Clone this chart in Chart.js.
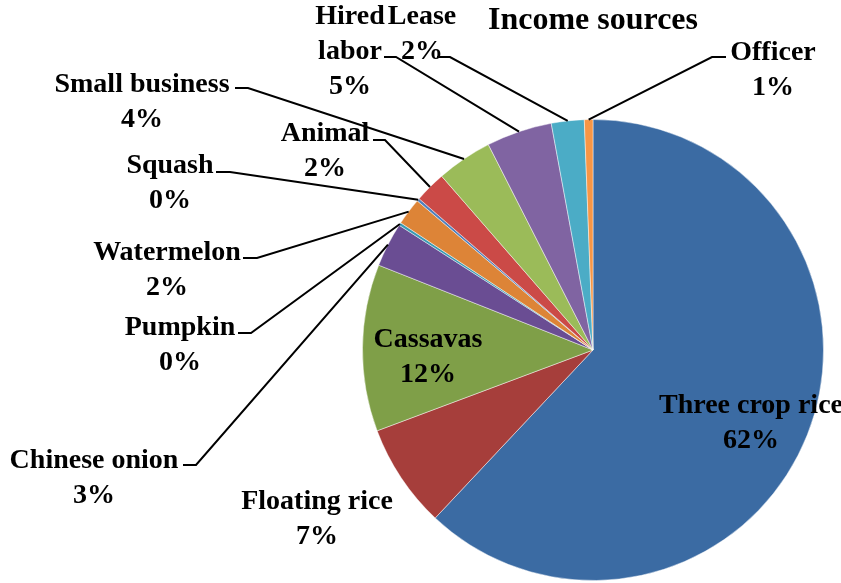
<!DOCTYPE html>
<html>
<head>
<meta charset="utf-8">
<title>Income sources</title>
<script src="https://cdn.jsdelivr.net/npm/chart.js@4.4.1/dist/chart.umd.min.js"></script>
<style>
  html, body { margin: 0; padding: 0; background: #fff; }
  #wrap { width: 841px; height: 583px; }
</style>
</head>
<body>
<div id="wrap"><canvas id="pie" width="841" height="583"></canvas></div>
<script>
'use strict';

/* Income share per source (%), clockwise from 12 o'clock */
const sources = [
  'Three crop rice', 'Floating rice', 'Cassavas', 'Chinese onion', 'Pumpkin',
  'Watermelon', 'Squash', 'Animal', 'Small business', 'Hired labor', 'Lease', 'Officer'
];
const shares = [62.0, 7.3, 11.7, 3.1, 0.2, 1.9, 0.2, 2.2, 3.9, 4.6, 2.3, 0.6];

const sliceColors = [
  '#3B6BA3', '#A63E3B', '#7F9F48', '#6A4D93', '#3A9AB3', '#DD8437',
  '#4F81BD', '#CB4A47', '#9BBB59', '#8064A2', '#4BACC6', '#F79646'
];

/* Label placement: text centre x, first baseline y, optional leader tick [x0, x1, y] */
const labelSpots = [
  { x: 751, y: 413 },
  { x: 317, y: 509 },
  { x: 428, y: 347 },
  { x: 94,  y: 468, tick: [183, 196, 465] },
  { x: 180, y: 335, tick: [238, 251, 333] },
  { x: 167, y: 260, tick: [243, 257, 258] },
  { x: 170, y: 173, tick: [216, 230, 172] },
  { x: 325, y: 141, tick: [373, 385, 140] },
  { x: 142, y: 92,  tick: [235, 248, 88] },
  { x: 350, y: 24,  tick: [384, 396, 57], wrap: true },
  { x: 422, y: 24,  tick: [437, 450, 57] },
  { x: 773, y: 60,  tick: [726, 712, 57] },
];

const LABEL_FONT = 'bold 28px "Liberation Serif"';
const LINE_H = 35;

/* Draws category + percentage labels with leader lines to the slice edge */
const pieLabels = {
  id: 'pieLabels',
  afterDatasetsDraw(chart) {
    const ctx = chart.ctx;
    const meta = chart.getDatasetMeta(0);
    const values = chart.data.datasets[0].data;
    const total = values.reduce((a, b) => a + b, 0);

    ctx.save();
    ctx.strokeStyle = '#000';
    ctx.lineWidth = 2;
    meta.data.forEach((arc, i) => {
      const spot = labelSpots[i];
      if (!spot.tick) return;
      const { x, y, startAngle, endAngle, outerRadius } = arc.getProps(
        ['x', 'y', 'startAngle', 'endAngle', 'outerRadius'], true);
      const mid = (startAngle + endAngle) / 2;
      const px = x + Math.cos(mid) * outerRadius;
      const py = y + Math.sin(mid) * outerRadius;
      const [x0, x1, ty] = spot.tick;
      ctx.beginPath();
      ctx.moveTo(x0, ty);
      ctx.lineTo(x1, ty);
      ctx.lineTo(px, py);
      ctx.stroke();
    });

    ctx.font = LABEL_FONT;
    ctx.fillStyle = '#000';
    ctx.textAlign = 'center';
    ctx.textBaseline = 'alphabetic';
    chart.data.labels.forEach((name, i) => {
      const spot = labelSpots[i];
      const pct = Math.round(values[i] / total * 100) + '%';
      const lines = spot.wrap ? name.split(' ') : [name];
      lines.push(pct);
      lines.forEach((txt, k) => ctx.fillText(txt, spot.x, spot.y + k * LINE_H));
    });
    ctx.restore();
  }
};

new Chart(document.getElementById('pie'), {
  type: 'pie',
  data: {
    labels: sources,
    datasets: [{
      data: shares,
      backgroundColor: sliceColors,
      borderColor: 'rgba(255,255,255,0.45)',
      borderWidth: 1,
    }],
  },
  options: {
    responsive: false,
    animation: false,
    layout: { padding: { left: 362, right: 17, top: 0, bottom: 2 } },
    plugins: {
      legend: { display: false },
      tooltip: { enabled: false },
      title: {
        display: true,
        text: 'Income sources',
        fullSize: false,
        color: '#000',
        font: { family: '"Liberation Serif"', size: 32, weight: 'bold', lineHeight: 1.2 },
        padding: { top: 2, bottom: 78.6 },
      },
    },
  },
  plugins: [pieLabels],
});
</script>
</body>
</html>
